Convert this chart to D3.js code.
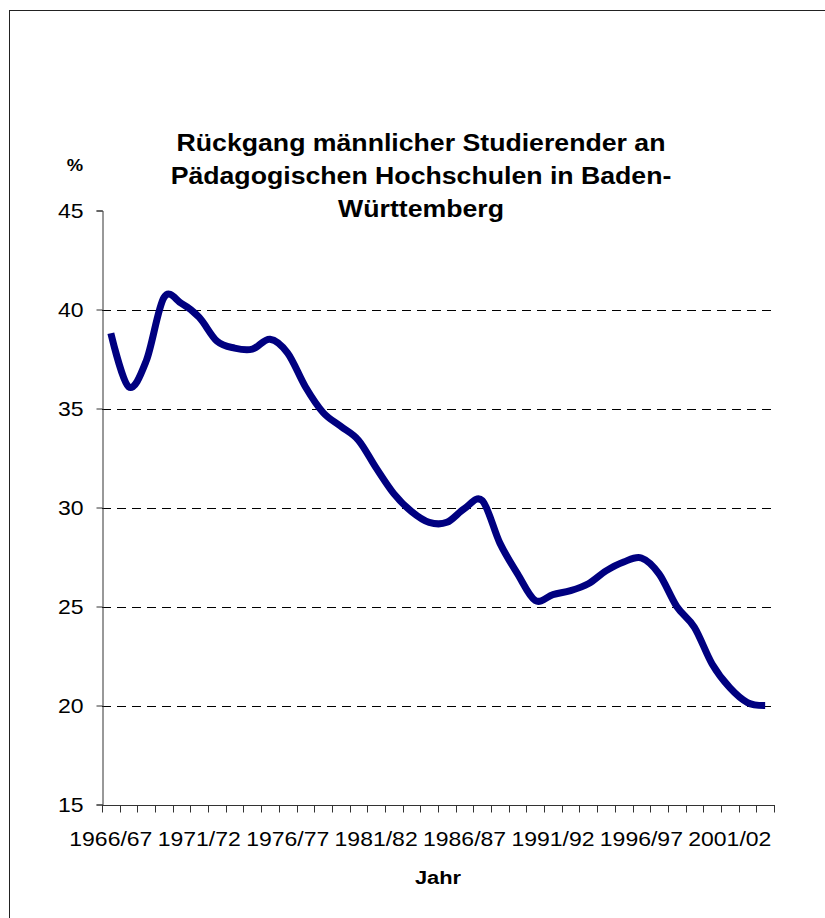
<!DOCTYPE html>
<html>
<head>
<meta charset="utf-8">
<script src="https://cdn.jsdelivr.net/npm/d3@7"></script>
<style>
  html, body { margin: 0; padding: 0; background: #fff; }
  svg { display: block; }
  text { font-family: "Liberation Sans", Arial, sans-serif; fill: #000; }
</style>
</head>
<body>
<svg id="chart" width="825" height="918"></svg>
<script>
// ---- data ----
const years = [
  "1966/67","1967/68","1968/69","1969/70","1970/71","1971/72","1972/73","1973/74",
  "1974/75","1975/76","1976/77","1977/78","1978/79","1979/80","1980/81","1981/82",
  "1982/83","1983/84","1984/85","1985/86","1986/87","1987/88","1988/89","1989/90",
  "1990/91","1991/92","1992/93","1993/94","1994/95","1995/96","1996/97","1997/98",
  "1998/99","1999/00","2000/01","2001/02","2002/03","2003/04"
];
const malePercent = [
  38.8, 36.1, 37.4, 40.6, 40.3, 39.6, 38.4, 38.05,
  38.0, 38.5, 37.8, 36.1, 34.8, 34.1, 33.4, 32.0,
  30.7, 29.8, 29.25, 29.25, 29.95, 30.35, 28.2, 26.65,
  25.3, 25.6, 25.8, 26.15, 26.8, 27.25, 27.45, 26.65,
  25.0, 23.95, 22.1, 20.9, 20.15, 20.0
];
const yTicks = [15, 20, 25, 30, 35, 40, 45];
const xLabelYears = ["1966/67","1971/72","1976/77","1981/82","1986/87","1991/92","1996/97","2001/02"];
const titleLines = ["Rückgang männlicher Studierender an", "Pädagogischen Hochschulen in Baden-", "Württemberg"];
const yUnit = "%";
const xTitle = "Jahr";

// ---- layout ----
const svg = d3.select("#chart");
const plotL = 102, plotR = 774, plotT = 210.5, plotB = 804.5;
const sx = 1.15; // horizontal text stretch seen in the reference

// outer frame
svg.append("rect").attr("x", 9.5).attr("y", 10.5).attr("width", 830).attr("height", 930)
  .attr("fill", "none").attr("stroke", "#222").attr("stroke-width", 1);

const x = d3.scaleBand().domain(years).range([plotL, plotR]).paddingInner(0).paddingOuter(0);
const y = d3.scaleLinear().domain([15, 45]).range([plotB, plotT]);

// gridlines
svg.append("g").selectAll("line").data(yTicks.filter(t => t > 15 && t < 45)).join("line")
  .attr("x1", plotL).attr("x2", plotR)
  .attr("y1", d => Math.round(y(d)) + 0.5).attr("y2", d => Math.round(y(d)) + 0.5)
  .attr("stroke", "#000").attr("stroke-width", 1).attr("stroke-dasharray", "9,6");

// y axis
const yAxis = svg.append("g").attr("transform", `translate(${plotL + 0.5},0)`)
  .call(d3.axisLeft(y).tickValues(yTicks).tickSize(6).tickPadding(0).tickFormat(d3.format("d")));
yAxis.select(".domain").attr("stroke", "#333");
yAxis.selectAll(".tick line").attr("stroke", "#333");
yAxis.selectAll(".tick text").remove();
svg.append("g").selectAll("text").data(yTicks).join("text")
  .attr("transform", d => `translate(83.5,${y(d) + 7}) scale(${sx},1)`)
  .attr("text-anchor", "end").attr("font-size", 20).text(d => d);

// x axis with ticks at category boundaries
const xb = svg.append("g");
xb.append("line").attr("x1", plotL).attr("x2", plotR + 1)
  .attr("y1", Math.round(plotB) + 0.5).attr("y2", Math.round(plotB) + 0.5)
  .attr("stroke", "#333");
const boundaries = years.map(d => x(d)).concat([plotR]);
xb.selectAll("line.t").data(boundaries).join("line").attr("class", "t")
  .attr("x1", d => Math.round(d) + 0.5).attr("x2", d => Math.round(d) + 0.5)
  .attr("y1", Math.round(plotB) + 0.5).attr("y2", Math.round(plotB) + 7.5)
  .attr("stroke", "#333");
xb.selectAll("text").data(xLabelYears).join("text")
  .attr("transform", d => `translate(${x(d) + x.bandwidth() / 2},846) scale(${sx},1)`)
  .attr("text-anchor", "middle").attr("font-size", 20).text(d => d);

// line
const line = d3.line()
  .x((d, i) => x(years[i]) + x.bandwidth() / 2)
  .y(d => y(d))
  .curve(d3.curveCardinal.tension(0));
svg.append("path").datum(malePercent).attr("d", line)
  .attr("fill", "none").attr("stroke", "#000080").attr("stroke-width", 7)
  .attr("stroke-linejoin", "round").attr("stroke-linecap", "butt");

// titles
svg.append("g").selectAll("text").data(titleLines).join("text")
  .attr("transform", (d, i) => `translate(421,${151 + i * 33}) scale(1.16,1)`)
  .attr("text-anchor", "middle").attr("font-size", 23).attr("font-weight", "bold").text(d => d);
svg.append("text").attr("transform", `translate(75,171) scale(${sx},1)`)
  .attr("text-anchor", "middle").attr("font-size", 16).attr("font-weight", "bold").text(yUnit);
svg.append("text").attr("transform", `translate(438,884) scale(${sx},1)`)
  .attr("text-anchor", "middle").attr("font-size", 19).attr("font-weight", "bold").text(xTitle);
</script>
</body>
</html>
